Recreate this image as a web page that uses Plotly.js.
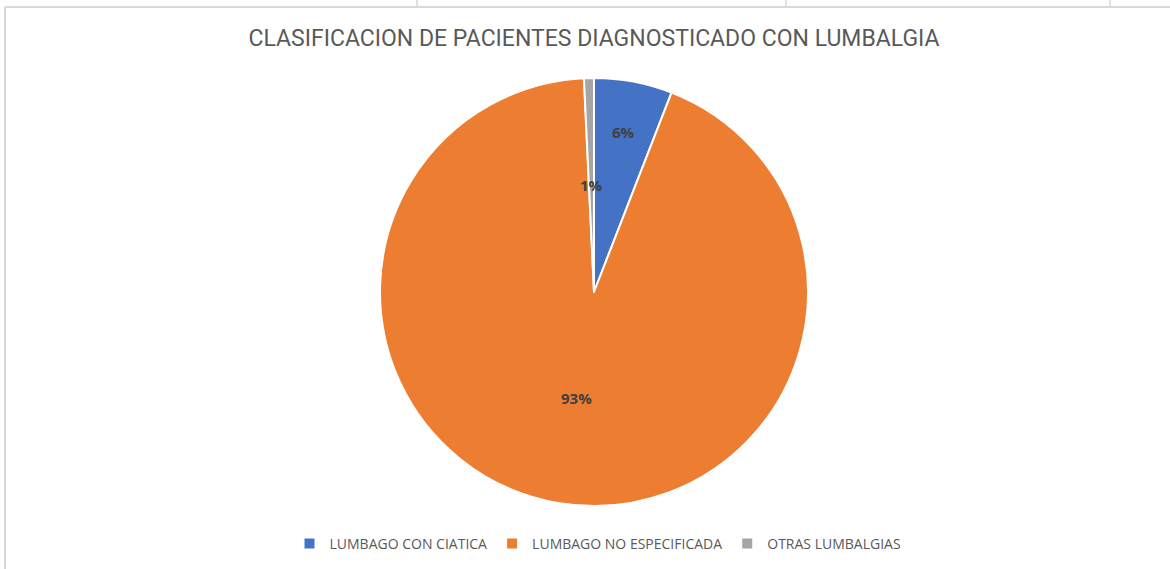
<!DOCTYPE html>
<html>
<head>
<meta charset="utf-8">
<script src="https://cdn.plot.ly/plotly-3.0.1.min.js"></script>
<style>
  html, body { margin: 0; padding: 0; background: #fff; }
  #chart { width: 1170px; height: 569px; }
</style>
</head>
<body>
<div id="chart"></div>
<script>
// Data (share of patients)
var categories = ["LUMBAGO CON CIATICA", "LUMBAGO NO ESPECIFICADA", "OTRAS LUMBALGIAS"];
var values = [5.9, 93.35, 0.75];
var colors = ["#4472C4", "#ED7D31", "#A5A5A5"];
// how far out each label sits, as a share of the radius
var labelRadius = [0.76, 0.5, 0.5];

var W = 1170, H = 569;
var cx = 594, cy = 292, R = 214;

var trace = {
  type: "pie",
  labels: categories,
  values: values,
  sort: false,
  direction: "clockwise",
  rotation: 0,
  textinfo: "none",
  hoverinfo: "label+percent",
  marker: { colors: colors, line: { color: "#ffffff", width: 2 } },
  domain: {
    x: [(cx - R) / W, (cx + R) / W],
    y: [1 - (cy + R) / H, 1 - (cy - R) / H]
  }
};

// percent labels placed along each slice's middle angle
var total = values.reduce(function (a, b) { return a + b; }, 0);
var annotations = [];
var cum = 0;
for (var i = 0; i < values.length; i++) {
  var mid = (cum + values[i] / 2) / total * 2 * Math.PI;
  cum += values[i];
  var px = cx + Math.sin(mid) * R * labelRadius[i];
  var py = cy - Math.cos(mid) * R * labelRadius[i];
  annotations.push({
    xref: "paper", yref: "paper",
    x: px / W, y: 1 - py / H,
    xanchor: "center", yanchor: "middle",
    text: "<b>" + Math.round(values[i] / total * 100) + "%</b>",
    showarrow: false,
    font: { family: "Open Sans, Arial, sans-serif", size: 15, color: "#404040" }
  });
}

var gridline = "#d9d9d9";
var shapes = [
  { type: "line", xref: "paper", yref: "paper", x0: 5 / W, x1: 1, y0: 1 - 7 / H, y1: 1 - 7 / H, line: { color: gridline, width: 2 } },
  { type: "line", xref: "paper", yref: "paper", x0: 5 / W, x1: 5 / W, y0: 0, y1: 1 - 7 / H, line: { color: gridline, width: 2 } }
];
[417, 786, 1110].forEach(function (gx) {
  shapes.push({ type: "line", xref: "paper", yref: "paper", x0: gx / W, x1: gx / W, y0: 1 - 6 / H, y1: 1, line: { color: gridline, width: 1.5 } });
});

var layout = {
  width: W,
  height: H,
  margin: { l: 0, r: 0, t: 0, b: 0 },
  paper_bgcolor: "#ffffff",
  title: {
    text: "CLASIFICACION DE PACIENTES DIAGNOSTICADO CON LUMBALGIA",
    font: { family: "Roboto, Arial, sans-serif", size: 23, color: "#595959" },
    x: 594 / W, xanchor: "center",
    y: 1 - 38 / H, yanchor: "middle"
  },
  showlegend: true,
  legend: {
    orientation: "h",
    x: 598 / W, xanchor: "center",
    y: 1 - 544 / H, yanchor: "middle",
    font: { family: "Open Sans, Arial, sans-serif", size: 14, color: "#595959" },
    itemwidth: 30,
    traceorder: "normal"
  },
  annotations: annotations,
  shapes: shapes
};

Plotly.newPlot("chart", [trace], layout, { displayModeBar: false, staticPlot: true });
</script>
</body>
</html>
